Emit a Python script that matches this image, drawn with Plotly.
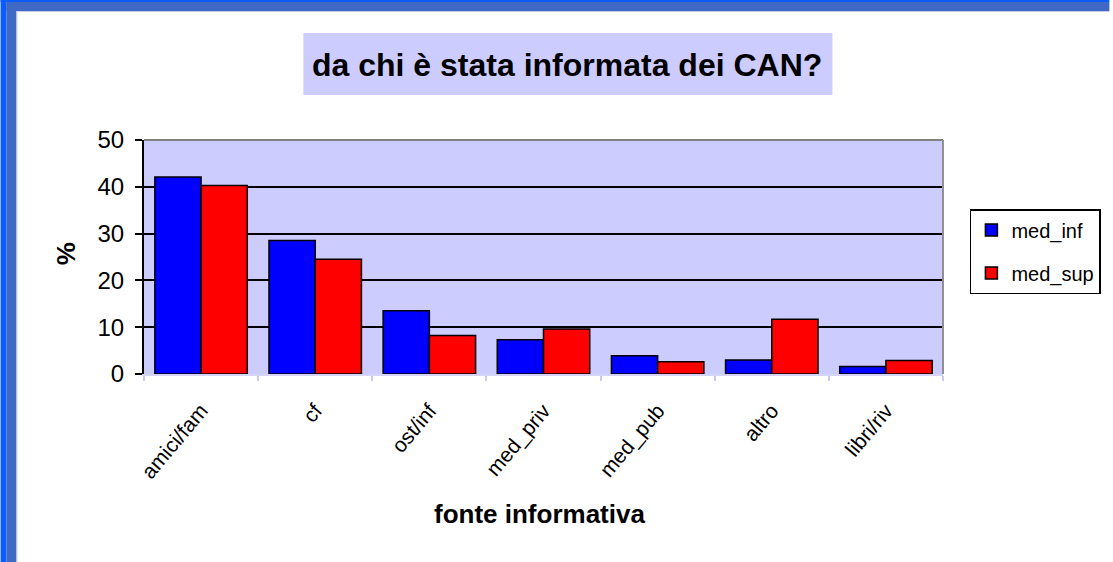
import plotly.graph_objects as go

categories = ["amici/fam", "cf", "ost/inf", "med_priv", "med_pub", "altro", "libri/riv"]
med_inf = [42.1, 28.5, 13.5, 7.3, 3.9, 3.0, 1.6]
med_sup = [40.3, 24.5, 8.2, 9.6, 2.6, 11.7, 2.9]
series_names = ["med_inf", "med_sup"]
y_ticks = [0, 10, 20, 30, 40, 50]

W, H = 1113, 562
L, R, T, B = 144, 946, 140, 374

def px(x):
    return (x - L) / (R - L)

def py(y):
    return (B - y) / (B - T)

fig = go.Figure()
fig.add_trace(go.Bar(x=categories, y=med_inf, name=series_names[0], legendgroup="a",
                     marker=dict(color="#0000FF", line=dict(color="black", width=1.5))))
fig.add_trace(go.Bar(x=categories, y=med_sup, name=series_names[1], legendgroup="b",
                     marker=dict(color="#FF0000", line=dict(color="black", width=1.5))))

shapes = [
    # slide frame
    dict(type="rect", xref="paper", yref="paper", x0=px(0), x1=px(6), y0=py(H), y1=py(0),
         fillcolor="#0A5CFF", line=dict(width=0), layer="below"),
    dict(type="rect", xref="paper", yref="paper", x0=px(0), x1=px(W), y0=py(2), y1=py(0),
         fillcolor="#0A5CFF", line=dict(width=0), layer="below"),
    dict(type="rect", xref="paper", yref="paper", x0=px(6), x1=px(16), y0=py(H), y1=py(2),
         fillcolor="#3F69C4", line=dict(width=0), layer="below"),
    dict(type="rect", xref="paper", yref="paper", x0=px(6), x1=px(W), y0=py(11), y1=py(2),
         fillcolor="#3F69C4", line=dict(width=0), layer="below"),
    dict(type="rect", xref="paper", yref="paper", x0=px(16), x1=px(17), y0=py(H), y1=py(11),
         fillcolor="#C8CCF0", line=dict(width=0), layer="below"),
    dict(type="rect", xref="paper", yref="paper", x0=px(16), x1=px(W), y0=py(12), y1=py(11),
         fillcolor="#C8CCF0", line=dict(width=0), layer="below"),
    # title box
    dict(type="rect", xref="paper", yref="paper", x0=px(304), x1=px(835), y0=py(95), y1=py(33),
         fillcolor="#CCCCFF", line=dict(width=0), layer="below"),
    # gray plot border top/right
    dict(type="line", xref="paper", yref="paper", x0=0, x1=1, y0=1, y1=1,
         line=dict(color="#808080", width=2), layer="above"),
    dict(type="line", xref="paper", yref="paper", x0=1, x1=1, y0=0, y1=1,
         line=dict(color="#909090", width=2), layer="above"),
]

annotations = [
    dict(text="<b>da chi è stata informata dei CAN?</b>", xref="paper", yref="paper",
         x=px(569), y=py(65), xanchor="center", yanchor="middle", showarrow=False,
         font=dict(family="Liberation Sans, Arial", size=32, color="black")),
    dict(text="<b>fonte informativa</b>", xref="paper", yref="paper",
         x=px(541), y=py(514), xanchor="center", yanchor="middle", showarrow=False,
         font=dict(family="Liberation Sans, Arial", size=26, color="black")),
    dict(text="<b>%</b>", xref="paper", yref="paper", textangle=-90,
         x=px(66), y=py(254), xanchor="center", yanchor="middle", showarrow=False,
         font=dict(family="Liberation Sans, Arial", size=26, color="black")),
]

fig.update_layout(
    width=W, height=H, autosize=False,
    margin=dict(l=L, r=W - R, t=T, b=H - B, pad=0),
    paper_bgcolor="white", plot_bgcolor="#CCCCFF",
    font=dict(family="Liberation Sans, Arial", size=18, color="black"),
    barmode="group", bargap=0.19, bargroupgap=0,
    showlegend=True,
    legend=dict(x=px(973), y=py(209), xanchor="left", yanchor="top",
                bgcolor="white", bordercolor="black", borderwidth=1.5,
                font=dict(size=20), tracegroupgap=14, traceorder="grouped",
                itemwidth=30),
    shapes=shapes, annotations=annotations,
)

fig.update_xaxes(
    type="category", showgrid=False, showline=True, linecolor="#D4D4F8", linewidth=2,
    ticks="outside", tickson="boundaries", ticklen=5, tickcolor="#C8C8F4", tickwidth=2,
    tickangle=-50, tickfont=dict(size=21), zeroline=False, ticklabelstandoff=14,
)
fig.update_yaxes(
    range=[0, 50], tickvals=y_ticks, showgrid=True, gridcolor="black", gridwidth=2,
    showline=True, linecolor="black", linewidth=2, ticks="outside", ticklen=7,
    tickcolor="black", tickwidth=2, tickfont=dict(size=24), zeroline=False,
    ticklabelstandoff=6,
)

fig.write_html("out.html", config={"displayModeBar": False},
               post_script="document.body.style.margin='0';document.body.style.overflow='hidden';")
